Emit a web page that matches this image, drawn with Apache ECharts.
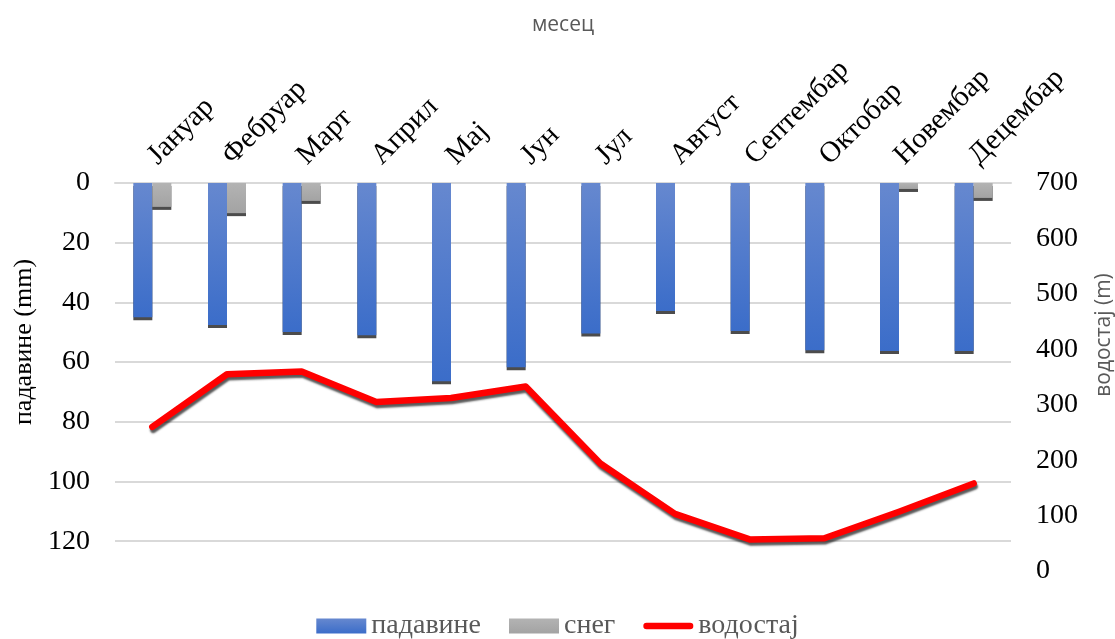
<!DOCTYPE html>
<html>
<head>
<meta charset="utf-8">
<title>падавине и водостај</title>
<script src="https://cdn.jsdelivr.net/npm/echarts@6/dist/echarts.min.js"></script>
<style>
  html, body { margin: 0; padding: 0; background: #fff; }
  #chart { width: 1115px; height: 639px; }
</style>
</head>
<body>
<div id="chart"></div>
<script>
// months on the top axis
const months = ['Јануар', 'Фебруар', 'Март', 'Април', 'Мај', 'Јун', 'Јул', 'Август', 'Септембар', 'Октобар', 'Новембар', 'Децембар']
// precipitation and snow (mm), left axis, drawn downwards
const padavine = [45, 47.6, 49.9, 51, 66.4, 61.7, 50.4, 42.9, 49.6, 56, 56.3, 56.3]
const sneg = [8, 10.1, 6, 0, 0, 0, 0, 0, 0, 0, 2, 5]
// water level (m), right axis
const vodostaj = [260, 355, 360, 305, 312, 333, 194, 103, 57, 59, 107, 158]

const serif = '"Liberation Serif", "DejaVu Serif", serif'
const sans = '"Open Sans", "Liberation Sans", sans-serif'

const chart = echarts.init(document.getElementById('chart'))

const barShadow = {
  shadowColor: 'rgba(0,0,0,0.7)',
  shadowBlur: 0,
  shadowOffsetX: 0,
  shadowOffsetY: 3
}

chart.setOption({
  animation: false,
  grid: {
    left: 115,
    right: 104,
    top: 183,
    bottom: 68,
    outerBoundsMode: 'none'
  },
  legend: {
    top: 607,
    left: 'center',
    itemWidth: 50,
    itemHeight: 15,
    itemGap: 28,
    textStyle: {
      fontFamily: serif,
      fontSize: 28,
      color: '#595959'
    },
    data: [
      { name: 'падавине', icon: 'rect' },
      { name: 'снег', icon: 'rect' },
      { name: 'водостај', icon: 'path://M3.5,0 L50.5,0 A3.5,3.5 0 0 1 50.5,7 L3.5,7 A3.5,3.5 0 0 1 3.5,0 Z' }
    ]
  },
  xAxis: {
    type: 'category',
    position: 'top',
    data: months,
    name: 'месец',
    nameLocation: 'middle',
    nameGap: 147,
    nameTextStyle: {
      fontFamily: sans,
      fontSize: 21,
      color: '#595959'
    },
    axisLine: { lineStyle: { color: '#d9d9d9', width: 2 } },
    axisTick: { show: false },
    axisLabel: {
      rotate: 45,
      margin: 23,
      fontFamily: serif,
      fontSize: 29,
      color: '#000'
    },
    splitLine: { show: false }
  },
  yAxis: [
    {
      type: 'value',
      inverse: true,
      min: 0,
      max: 130,
      interval: 20,
      name: 'падавине (mm)',
      nameLocation: 'middle',
      nameRotate: 90,
      nameGap: 76,
      nameTextStyle: {
        fontFamily: serif,
        fontSize: 26,
        color: '#000',
        padding: [0, 0, 0, 70]
      },
      axisLine: { show: false },
      axisTick: { show: false },
      axisLabel: {
        margin: 25,
        showMaxLabel: false,
        fontFamily: serif,
        fontSize: 28,
        color: '#000'
      },
      splitLine: {
        show: true,
        showMaxLine: false,
        lineStyle: { color: '#d9d9d9', width: 2 }
      }
    },
    {
      type: 'value',
      min: 0,
      max: 700,
      interval: 100,
      name: 'водостај (m)',
      nameLocation: 'middle',
      nameRotate: 90,
      nameGap: 83,
      nameTextStyle: {
        fontFamily: sans,
        fontSize: 21,
        color: '#595959',
        padding: [0, 0, 0, 84]
      },
      axisLine: { show: false },
      axisTick: { show: false },
      axisLabel: {
        margin: 25,
        fontFamily: serif,
        fontSize: 28,
        color: '#000'
      },
      splitLine: { show: false }
    }
  ],
  series: [
    {
      name: 'падавине',
      type: 'bar',
      yAxisIndex: 0,
      barWidth: 19,
      barGap: 0,
      itemStyle: Object.assign({
        color: {
          type: 'linear', x: 0, y: 0, x2: 0, y2: 1,
          colorStops: [
            { offset: 0, color: '#6688cf' },
            { offset: 1, color: '#3b6dc9' }
          ]
        }
      }, barShadow),
      data: padavine
    },
    {
      name: 'снег',
      type: 'bar',
      yAxisIndex: 0,
      barWidth: 19,
      barGap: 0,
      itemStyle: Object.assign({
        color: {
          type: 'linear', x: 0, y: 0, x2: 0, y2: 1,
          colorStops: [
            { offset: 0, color: '#b3b3b3' },
            { offset: 1, color: '#a3a3a3' }
          ]
        }
      }, barShadow),
      data: sneg
    },
    {
      name: 'водостај',
      type: 'line',
      yAxisIndex: 1,
      symbol: 'none',
      z: 5,
      color: '#ff0000',
      lineStyle: {
        color: '#ff0000',
        width: 6.5,
        cap: 'round',
        join: 'round',
        shadowColor: 'rgba(0,0,0,0.65)',
        shadowBlur: 2,
        shadowOffsetX: 1,
        shadowOffsetY: 3
      },
      data: vodostaj
    }
  ]
})
</script>
</body>
</html>
